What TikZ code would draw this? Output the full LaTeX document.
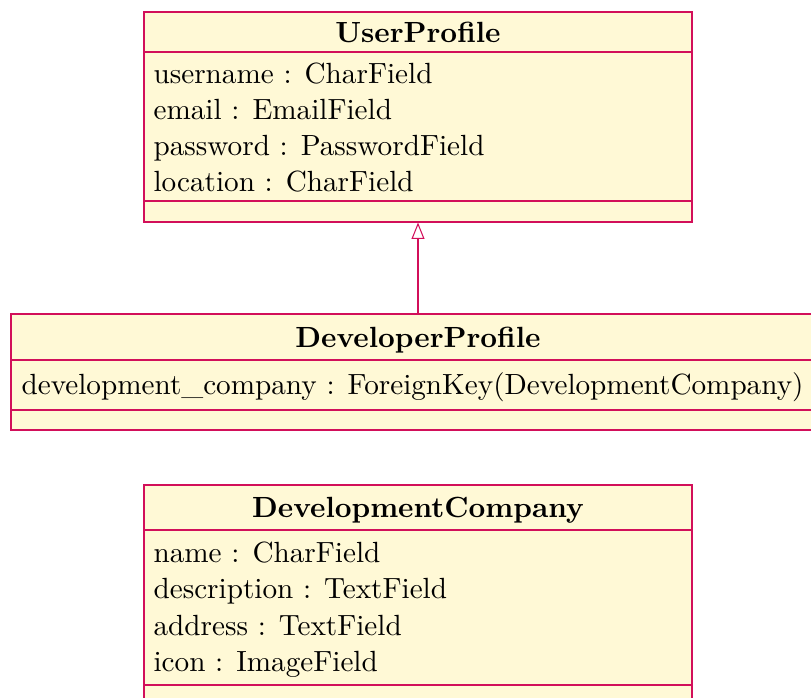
\documentclass[tikz,border=0pt]{standalone}
\usetikzlibrary{arrows.meta,fit}
\definecolor{umlline}{RGB}{210,15,90}
\definecolor{umlfill}{RGB}{255,249,214}
\begin{document}
\begin{tikzpicture}[x=0.3425pt,y=-0.3425pt,
  classbox/.style={draw=umlline, fill=umlfill, inner sep=0pt, line width=0.36pt},
  sepline/.style={draw=umlline, line width=0.36pt},
  classtitle/.style={font=\bfseries, anchor=base, inner sep=0pt},
  attr/.style={anchor=base west, inner sep=0pt},
  inherit/.style={draw=umlline, line width=0.36pt, -{Triangle[open, length=5.6pt, width=4.4pt]}}]
\useasboundingbox (0,0) rectangle (811,698);
\clip (0,0) rectangle (811,698);

% UserProfile
\node[classbox, fit={(144,12) (692,222)}] (user) {};
\draw[sepline] (144,52) -- (692,52);
\draw[sepline] (144,201) -- (692,201);
\node[classtitle] (usertitle) at (418,43) {UserProfile};
\node[attr] (ua1) at (153,84) {username : CharField};
\node[attr] (ua2) at (153,120) {email : EmailField};
\node[attr] (ua3) at (153,156) {password : PasswordField};
\node[attr] (ua4) at (153,192) {location : CharField};

% DeveloperProfile
\node[classbox, fit={(11,314) (825,430)}] (dev) {};
\draw[sepline] (11,360) -- (825,360);
\draw[sepline] (11,410) -- (825,410);
\node[classtitle] (devtitle) at (418,347) {DeveloperProfile};
\node[attr] (da1) at (21,395) {development\_company : ForeignKey(DevelopmentCompany)};

% DevelopmentCompany
\node[classbox, fit={(144,485) (692,720)}] (comp) {};
\draw[sepline] (144,530) -- (692,530);
\draw[sepline] (144,685) -- (692,685);
\node[classtitle] (comptitle) at (418,517) {DevelopmentCompany};
\node[attr] (ca1) at (153,562) {name : CharField};
\node[attr] (ca2) at (153,598) {description : TextField};
\node[attr] (ca3) at (153,635) {address : TextField};
\node[attr] (ca4) at (153,671) {icon : ImageField};

% generalisation
\draw[inherit] (dev.north) -- (user.south);
\end{tikzpicture}
\end{document}
